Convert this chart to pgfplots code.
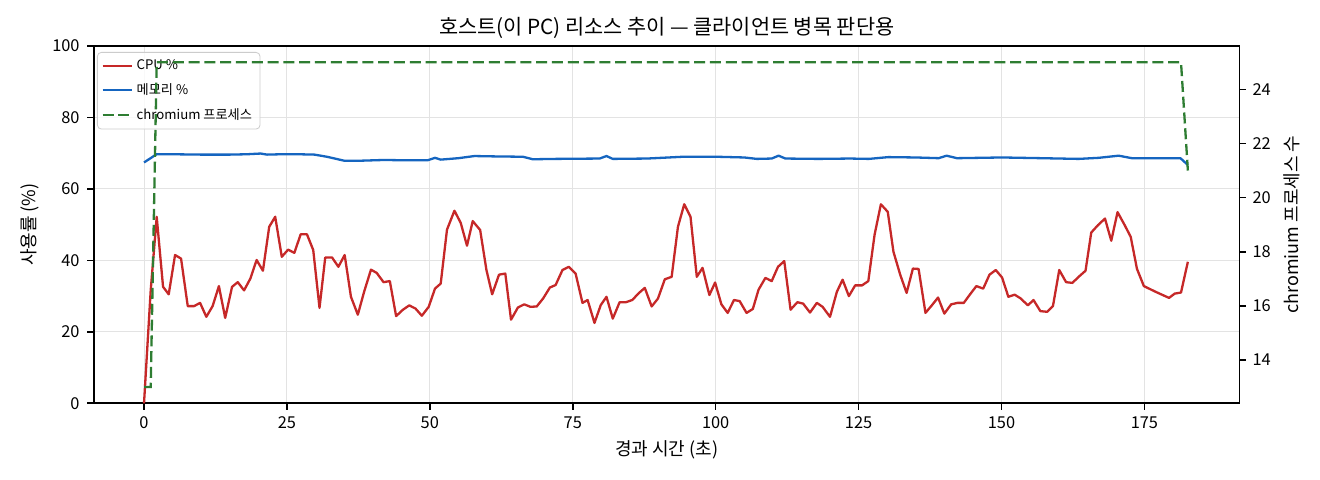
\documentclass[border=0pt]{standalone}
\usepackage{fontspec}
\setmainfont{Noto Sans CJK KR}
\usepackage{pgfplots}
\usepackage{pgfplotstable}
\pgfplotsset{compat=1.18}

\definecolor{cpured}{HTML}{C62828}
\definecolor{memblue}{HTML}{1565C0}
\definecolor{procgreen}{HTML}{2E7D32}

% elapsed seconds vs. CPU %
\pgfplotstableread{
t cpu
0 0
1.17 31.6
2.22 52.2
3.33 32.6
4.32 30.5
5.43 41.5
6.48 40.5
7.65 27.2
8.76 27.2
9.81 28.1
10.9 24.2
12.0 27.2
13.1 32.8
14.2 23.9
15.4 32.6
16.4 33.9
17.5 31.6
18.6 34.9
19.7 40.1
20.8 37.1
21.9 49.4
22.95 52.2
24.1 41.0
25.2 43.0
26.3 42.1
27.4 47.3
28.5 47.3
29.6 42.9
30.7 26.7
31.7 40.8
32.9 40.8
34.0 38.2
35.1 41.5
36.2 29.8
37.4 24.8
38.5 31.2
39.7 37.4
40.7 36.5
41.9 33.9
43.0 34.2
44.1 24.4
45.3 26.2
46.4 27.4
47.5 26.5
48.6 24.5
49.8 27.0
50.9 32.1
51.9 33.5
53.0 48.6
54.3 53.9
55.4 50.5
56.5 44.1
57.5 51.0
58.8 48.5
59.9 37.3
60.9 30.5
62.1 36.0
63.2 36.3
64.2 23.4
65.4 26.8
66.5 27.7
67.6 27.0
68.7 27.1
69.8 29.3
71.0 32.4
72.0 33.1
73.2 37.3
74.3 38.2
75.5 36.3
76.7 28.1
77.6 28.9
78.8 22.5
79.9 27.5
80.9 29.8
82.0 23.7
83.2 28.3
84.3 28.3
85.4 28.9
86.6 30.9
87.6 32.3
88.8 27.1
89.9 29.3
91.1 34.7
92.3 35.4
93.4 49.4
94.5 55.7
95.6 52.2
96.7 35.4
97.7 37.9
98.9 30.3
99.9 33.8
101.0 27.7
102.1 25.3
103.2 28.9
104.2 28.6
105.4 25.3
106.5 26.4
107.5 31.8
108.7 35.1
109.8 34.2
110.9 38.2
112.0 39.8
113.1 26.2
114.3 28.3
115.3 27.9
116.5 25.4
117.7 28.1
118.7 27.0
120.0 24.2
121.2 31.2
122.2 34.6
123.3 30.0
124.4 33.0
125.6 33.0
126.7 34.2
127.8 47.2
128.9 55.7
130.1 53.6
131.1 42.4
132.3 35.9
133.4 30.9
134.5 37.7
135.5 37.6
136.7 25.3
137.8 27.4
138.9 29.6
140.0 25.1
141.2 27.7
142.3 28.1
143.4 28.1
144.5 30.5
145.6 32.8
146.8 32.1
147.9 36.0
149.0 37.3
150.1 35.2
151.2 29.8
152.3 30.4
153.4 29.3
154.6 27.4
155.6 28.9
156.8 25.8
158.0 25.6
159.0 27.2
160.1 37.3
161.3 33.9
162.4 33.7
163.5 35.4
164.7 37.1
165.7 47.8
166.9 49.9
168.1 51.7
169.2 45.5
170.3 53.5
171.5 50.0
172.6 46.6
173.7 37.6
174.9 32.8
177.1 31.1
179.3 29.5
180.3 30.7
181.4 31.0
182.6 39.6
}\cputable

% elapsed seconds vs. memory %
\pgfplotstableread{
t mem
0 67.4
2.2 69.7
5 69.7
10 69.6
15 69.6
18 69.7
20.4 69.9
21.5 69.6
24 69.7
27 69.7
29.8 69.6
32 69.0
35 67.9
38 67.9
42 68.1
46 68.0
49.6 68.0
50.9 68.7
51.9 68.2
55 68.6
57.8 69.2
61.3 69.1
66.3 69.0
68 68.3
72 68.4
79.7 68.5
80.9 69.2
82 68.4
88 68.5
94.3 69.0
100.2 69.0
105 68.8
107.2 68.4
109.8 68.5
111 69.3
112.2 68.5
118 68.4
123.5 68.5
126.8 68.4
130.2 68.9
135 68.8
139 68.6
140.4 69.3
142.2 68.6
150.1 68.8
157 68.6
163.5 68.4
167 68.7
170.5 69.3
172.8 68.6
181.3 68.6
182.6 66.7
}\memtable

% elapsed seconds vs. chromium process count
\pgfplotstableread{
t n
0 13
1.17 13
2.22 25
181.4 25
182.6 21
}\proctable

\begin{document}
\begin{tikzpicture}
\fill[white] (-47pt,-38.35pt) rectangle (613pt,201.65pt);
\pgfplotsset{
  base/.style={
    at={(0,0)}, anchor=south west, scale only axis,
    width=572.65pt, height=178.65pt,
    xmin=-8.75, xmax=191.6,
    tick align=outside, major tick length=3.3pt,
    tick style={black, line width=0.8pt},
    axis line style={line width=0.8pt},
    /pgf/number format/assume math mode=true,
    ticklabel style={font=\fontsize{8.2}{9}\selectfont},
    label style={font=\fontsize{9}{10}\selectfont},
  }
}
\begin{axis}[base,
  ymin=0, ymax=100, ytick={0,20,...,100},
  xtick={0,25,...,175},
  xtick pos=left, ytick pos=left,
  grid=major, grid style={line width=0.5pt, black!11},
  xticklabel style={anchor=north, inner sep=0pt, yshift=-3.3pt},
  yticklabel style={anchor=east, inner sep=0pt, xshift=-3.7pt},
  xlabel={경과 시간 (초)},
  xlabel style={at={(axis description cs:0.5,0)}, anchor=base, yshift=-26pt},
  ylabel={사용률 (\%)},
  ylabel style={at={(axis description cs:-0.0515,0.5)}, anchor=base},
  title={호스트(이 PC) 리소스 추이 — 클라이언트 병목 판단용},
  title style={at={(axis description cs:0.5,1)}, anchor=base, yshift=-0.5pt,
    font=\fontsize{10.4}{12}\selectfont},
  legend cell align=left,
  legend image code/.code={\draw[#1] (0pt,0pt) -- (14.5pt,0pt);},
  legend style={at={(axis description cs:0,1)}, anchor=north west,
    xshift=1.5pt, yshift=-3pt, draw=black!20, rounded corners=2pt,
    fill=white, fill opacity=0.8, text opacity=1,
    font=\fontsize{6.6}{7}\selectfont, row sep=1.5pt,
    inner xsep=2pt, inner ysep=1.5pt},
]
\addplot[cpured, line width=1.15pt, line join=round] table[x=t, y=cpu] {\cputable};
\addlegendentry{CPU \%}
\addplot[memblue, line width=1.15pt, line join=round] table[x=t, y=mem] {\memtable};
\addlegendentry{메모리 \%}
\addlegendimage{procgreen, line width=1.15pt, dash pattern=on 5.5pt off 2.4pt}
\addlegendentry{chromium 프로세스}
\end{axis}
\begin{axis}[base,
  ymin=12.4, ymax=25.6, ytick={14,16,...,24},
  axis x line=none, axis y line*=right,
  yticklabel style={anchor=west, inner sep=0pt, xshift=3.1pt},
  ylabel={chromium 프로세스 수},
  ylabel style={at={(axis description cs:1.0515,0.5)}, anchor=base, rotate=0},
]
\addplot[procgreen, line width=1.15pt, dash pattern=on 5.5pt off 2.4pt] table[x=t, y=n] {\proctable};
\end{axis}
\pgfresetboundingbox
\path[use as bounding box] (-47pt,-38.35pt) rectangle (613pt,201.65pt);
\end{tikzpicture}
\end{document}
